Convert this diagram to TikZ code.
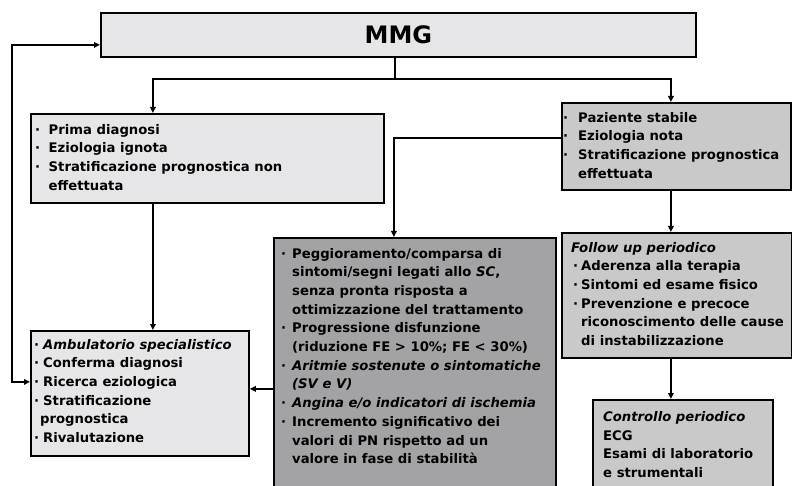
\documentclass[tikz,border=0pt]{standalone}
\usepackage{fontspec}
\setmainfont{DejaVu Sans}
\usetikzlibrary{arrows.meta,calc}

\definecolor{boxlight}{RGB}{230,230,232}
\definecolor{boxmid}{RGB}{201,201,202}
\definecolor{boxdark}{RGB}{163,163,165}

% bullet set in a box of given width; \hg indents a continuation line
\newcommand{\bl}[1][12pt]{\makebox[#1][l]{·}}
\newcommand{\hg}[1][12pt]{\hspace*{#1}}

\begin{document}
\begin{tikzpicture}[x=1pt,y=-1pt,
  panel/.style={draw=black,line width=1.8pt,anchor=north west,inner sep=0pt},
  txt/.style={anchor=north west,inner sep=0pt,align=left,
    font=\bfseries\fontsize{13.2}{18.7}\selectfont},
  link/.style={line width=1.6pt},
  arr/.style={link,-{Triangle[length=6pt,width=5.5pt]}},
  arrboth/.style={link,{Triangle[length=6pt,width=5.5pt]}-{Triangle[length=6pt,width=5.5pt]}}
]
\useasboundingbox (0,0) rectangle (792,486);
\clip (0,0) rectangle (792,486);

% boxes
\node[panel,fill=boxlight,minimum width=595pt,minimum height=44pt] (mmg) at (100,12) {};
\node[font=\bfseries\fontsize{24}{28}\selectfont] (mmgT) at (mmg.center) {MMG};

\node[panel,fill=boxlight,minimum width=353pt,minimum height=89pt] (prima) at (30,113) {};
\node[panel,fill=boxmid,minimum width=229pt,minimum height=87pt] (paz) at (561,102) {};
\node[panel,fill=boxdark,minimum width=282pt,minimum height=270pt] (mid) at (273,237) {};
\node[panel,fill=boxmid,minimum width=230pt,minimum height=125pt] (follow) at (561,232) {};
\node[panel,fill=boxmid,minimum width=180pt,minimum height=110pt] (ctrl) at (592,399) {};
\node[panel,fill=boxlight,minimum width=218pt,minimum height=125pt] (amb) at (30,330) {};

% texts
\node[txt] (primaT) at ($(prima.north west)+(5,10.8)$) {%
\bl[13.5pt]Prima diagnosi\\
\bl[13.5pt]Eziologia ignota\\
\bl[13.5pt]Stratificazione prognostica non\\
\hg[13.5pt]effettuata};

\node[txt] (pazT) at ($(paz.north west)+(2,9.8)$) {%
\bl[15pt]Paziente stabile\\
\bl[15pt]Eziologia nota\\
\bl[15pt]Stratificazione prognostica\\
\hg[15pt]effettuata};

\node[txt] (midT) at ($(mid.north west)+(8,10.8)$) {%
\bl[11pt]Peggioramento/comparsa di\\
\hg[11pt]sintomi/segni legati allo \textit{SC},\\
\hg[11pt]senza pronta risposta a\\
\hg[11pt]ottimizzazione del trattamento\\
\bl[11pt]Progressione disfunzione\\
\hg[11pt](riduzione FE > 10\%; FE < 30\%)\\
\bl[11pt]\textit{Aritmie sostenute o sintomatiche}\\
\hg[11pt]\textit{(SV e V)}\\
\bl[11pt]\textit{Angina e/o indicatori di ischemia}\\
\bl[11pt]Incremento significativo dei\\
\hg[11pt]valori di PN rispetto ad un\\
\hg[11pt]valore in fase di stabilità};

\node[txt] (followT) at ($(follow.north west)+(10,9.8)$) {%
\textit{Follow up periodico}\\
\hg[2pt]\bl[8pt]Aderenza alla terapia\\
\hg[2pt]\bl[8pt]Sintomi ed esame fisico\\
\hg[2pt]\bl[8pt]Prevenzione e precoce\\
\hg[10pt]riconoscimento delle cause\\
\hg[10pt]di instabilizzazione};

\node[txt] (ctrlT) at ($(ctrl.north west)+(11,12.3)$) {%
\textit{Controllo periodico}\\
ECG\\
Esami di laboratorio\\
e strumentali};

\node[txt] (ambT) at ($(amb.north west)+(4,8.8)$) {%
\bl[9pt]\textit{Ambulatorio specialistico}\\
\bl[9pt]Conferma diagnosi\\
\bl[9pt]Ricerca eziologica\\
\bl[9pt]Stratificazione\\
\hg[6pt]prognostica\\
\bl[9pt]Rivalutazione};

% connectors
\coordinate (mmgout) at ([xshift=-3.5pt]mmg.south);
\coordinate (split) at ($(mmgout)+(0,21)$);
\draw[link] (mmgout) -- (split);
\draw[arr] (split) -| ([xshift=-54.5pt]prima.north);
\draw[arr] (split) -| ([xshift=-5.5pt]paz.north);

\coordinate (pd) at ([xshift=-54.5pt]prima.south);
\draw[arr] (pd) -- (pd |- amb.north);

\draw[arr] ([yshift=8.5pt]paz.west) -| ([xshift=-21pt]mid.north);

\coordinate (pb) at ([xshift=-5.5pt]paz.south);
\draw[arr] (pb) -- (pb |- follow.north);
\coordinate (fb) at (pb |- follow.south);
\draw[arr] (fb) -- (fb |- ctrl.north);

\coordinate (ml) at ([yshift=-16pt]mid.west);
\draw[arr] (ml) -- (ml -| amb.east);

\draw[arrboth] ([yshift=11.5pt]amb.west) -- ++(-18,0) |- ([yshift=-10pt]mmg.west);
\end{tikzpicture}
\end{document}
